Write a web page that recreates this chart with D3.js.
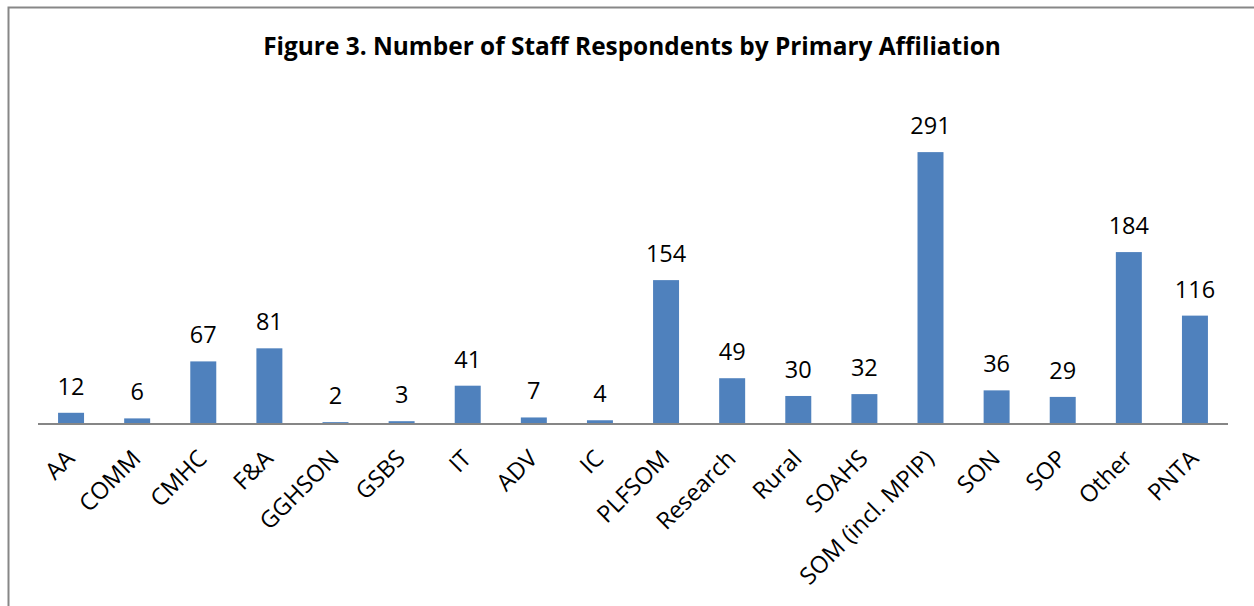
<!DOCTYPE html>
<html>
<head>
<meta charset="utf-8">
<script src="https://cdn.jsdelivr.net/npm/d3@7"></script>
<style>
  html, body { margin: 0; padding: 0; background: #fff; }
  svg { display: block; }
  text { font-family: "Open Sans", "DejaVu Sans", sans-serif; fill: #000; }
</style>
</head>
<body>
<svg id="chart" width="1254" height="606"></svg>
<script>
// Staff respondents by primary affiliation
const categories = ["AA", "COMM", "CMHC", "F&A", "GGHSON", "GSBS", "IT", "ADV", "IC",
  "PLFSOM", "Research", "Rural", "SOAHS", "SOM (incl. MPIP)", "SON", "SOP", "Other", "PNTA"];
const counts = [12, 6, 67, 81, 2, 3, 41, 7, 4, 154, 49, 30, 32, 291, 36, 29, 184, 116];
const titleText = "Figure 3. Number of Staff Respondents by Primary Affiliation";

const W = 1254, H = 606;
const plot = { left: 38, right: 1228, top: 97, bottom: 424 };
const labelSize = 23.5;

const svg = d3.select("#chart");

// chart frame
svg.append("rect")
  .attr("x", 8.5).attr("y", 7.5)
  .attr("width", W + 20).attr("height", H + 20)
  .attr("fill", "none")
  .attr("stroke", "#878787")
  .attr("stroke-width", 2);

// title, sized to its span
const title = svg.append("text")
  .attr("x", 632).attr("y", 55)
  .attr("text-anchor", "middle")
  .attr("font-weight", "bold")
  .attr("font-size", 24)
  .text(titleText);
const tw = title.node().getComputedTextLength();
title.attr("font-size", 24 * 738 / tw);

const x = d3.scaleBand()
  .domain(categories)
  .range([plot.left, plot.right])
  .paddingInner(0.607)
  .paddingOuter(0.3035);

const y = d3.scaleLinear()
  .domain([0, 350])
  .range([plot.bottom, plot.top]);

const data = categories.map((c, i) => ({ c, v: counts[i] }));

svg.append("g").selectAll("rect")
  .data(data)
  .join("rect")
  .attr("x", d => x(d.c))
  .attr("y", d => y(d.v))
  .attr("width", x.bandwidth())
  .attr("height", d => y(0) - y(d.v))
  .attr("fill", "#4F81BD");

// value labels
svg.append("g").selectAll("text")
  .data(data)
  .join("text")
  .attr("x", d => x(d.c) + x.bandwidth() / 2)
  .attr("y", d => y(d.v) - 18)
  .attr("text-anchor", "middle")
  .attr("font-size", labelSize)
  .text(d => d.v);

// category axis
const axis = svg.append("g")
  .attr("transform", `translate(0,${plot.bottom})`)
  .call(d3.axisBottom(x).tickSize(0).tickPadding(0));
axis.select(".domain")
  .attr("stroke", "#868686")
  .attr("stroke-width", 2)
  .attr("d", `M${plot.left},0H${plot.right}`);
axis.selectAll(".tick text")
  .attr("font-family", "\"Open Sans\", \"DejaVu Sans\", sans-serif")
  .attr("font-size", labelSize)
  .attr("fill", "#000")
  .attr("text-anchor", "end")
  .attr("dy", 0)
  .attr("y", 0)
  .attr("transform", "translate(5,36) rotate(-45)");
</script>
</body>
</html>
